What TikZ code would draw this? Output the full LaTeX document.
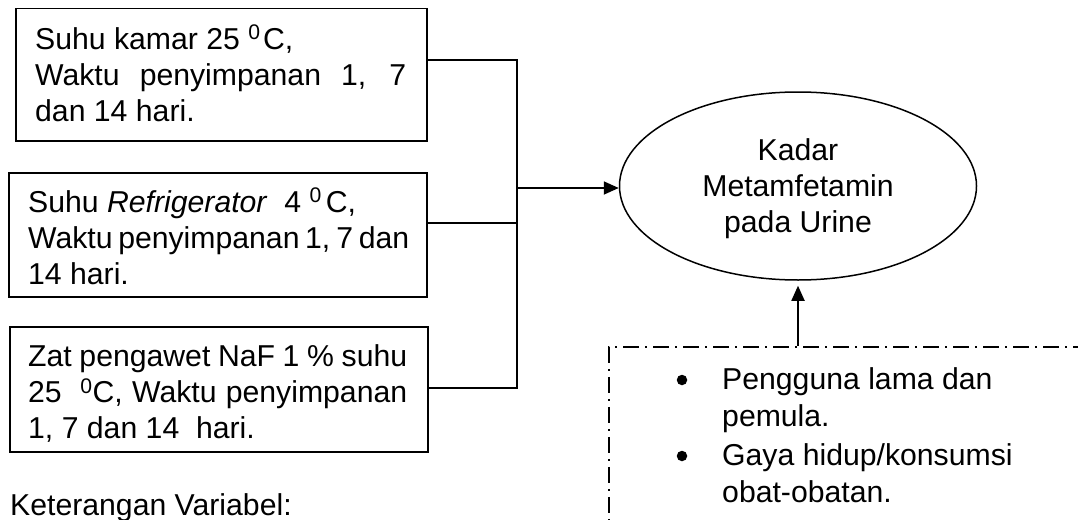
\documentclass[tikz,border=0pt]{standalone}
\usepackage{fontspec}
\setmainfont{Liberation Sans}
\usetikzlibrary{arrows.meta,shapes.geometric}
\newcommand{\bodyfont}{\fontsize{30.2pt}{36.4pt}\selectfont}
\begin{document}
\begin{tikzpicture}[x=1pt,y=-1pt,
  txt/.style={inner sep=0pt, anchor=base west, font=\bodyfont},
  ctxt/.style={inner sep=0pt, anchor=base, font=\bodyfont},
  box/.style={draw, line width=1.5pt, inner sep=0pt, anchor=north west},
  dot/.style={circle, fill, inner sep=0pt, minimum size=10.5pt},
  link/.style={line width=1.8pt},
  arr/.style={line width=1.8pt, -{Triangle[length=15pt,width=13pt]}},
]
\useasboundingbox (0,0) rectangle (1078,519);

% input boxes
\node[box, minimum width=411pt, minimum height=132pt] (b1) at (15,8) {};
\node[box, minimum width=418pt, minimum height=124pt] (b2) at (8,172) {};
\node[box, minimum width=418pt, minimum height=125pt] (b3) at (9,326) {};

\node[txt] (t1) at (35,49) {\parbox[t]{371pt}{\bodyfont
  Suhu kamar 25 \textsuperscript{0}\hspace{2.5pt}C,\\
  \makebox[\linewidth][s]{Waktu penyimpanan 1, 7}\\
  dan 14 hari.}};
\node[txt] (t2) at (28,212) {\parbox[t]{379pt}{\bodyfont
  Suhu \textit{Refrigerator}\ \ 4 \textsuperscript{0}\hspace{4pt}C,\\
  \makebox[\linewidth][s]{Waktu penyimpanan 1, 7 dan}\\
  14 hari.}};
\node[txt] (t3) at (28,366) {\parbox[t]{379pt}{\bodyfont
  \makebox[\linewidth][s]{Zat pengawet NaF 1 \% suhu}\\
  \makebox[\linewidth][s]{25\ \ \textsuperscript{0}C, Waktu penyimpanan}\\
  1, 7 dan 14\ \ hari.}};

% outcome
\node[draw, ellipse, line width=1.5pt, minimum width=357pt, minimum height=188pt, inner sep=0pt] (el) at (798,186) {};
\node[ctxt] (te) at (798,160) {\parbox[t]{340pt}{\centering\bodyfont
  Kadar\\Metamfetamin\\pada Urine}};

% confounding factors
\node[draw, line width=1.7pt, dash pattern=on 16pt off 6pt on 2pt off 6pt,
      minimum width=520pt, minimum height=250pt, inner sep=0pt, anchor=north west] (cf) at (608,346) {};
\node[dot] (bu1) at (682,380) {};
\node[dot] (bu2) at (682,456) {};
\node[txt] (i1) at (722,389) {\parbox[t]{340pt}{\raggedright\fontsize{30.2pt}{37pt}\selectfont
  Pengguna lama dan\\pemula.}};
\node[txt] (i2) at (722,465) {\parbox[t]{340pt}{\raggedright\fontsize{30.2pt}{37pt}\selectfont
  Gaya hidup/konsumsi\\obat-obatan.}};

\node[txt] (ket) at (10,515) {Keterangan Variabel:};

% connectors
\coordinate (j1) at (517,60);
\coordinate (j2) at (517,223);
\coordinate (j3) at (517,388);
\coordinate (jm) at (517,188);
\draw[link] (j1 -| b1.east) -- (j1) -- (j3) -- (j3 -| b3.east);
\draw[link] (j2 -| b2.east) -- (j2);
\draw[arr] (jm) -- (jm -| el.west);
\draw[arr] (cf.north -| el.south) -- ([yshift=-5pt]el.south);
\end{tikzpicture}
\end{document}
